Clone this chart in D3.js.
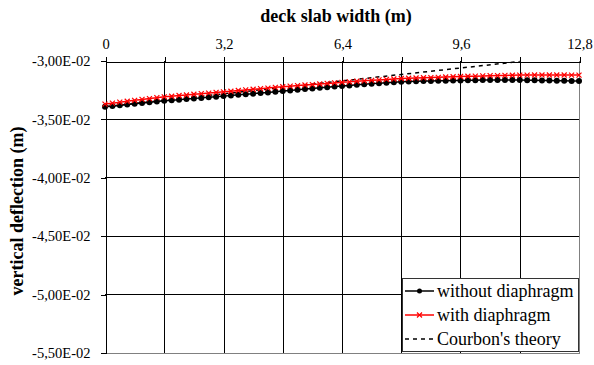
<!DOCTYPE html>
<html>
<head>
<meta charset="utf-8">
<script src="https://cdn.jsdelivr.net/npm/d3@7"></script>
<style>
  html, body { margin: 0; padding: 0; background: #fff; }
  svg { display: block; }
</style>
</head>
<body>
<svg id="chart" width="594" height="365" font-family="Liberation Serif"></svg>
<script>
// Position across the deck slab (m), sampled every 0.2 m
const positions = d3.range(0, 65).map(i => +(i * 0.2).toFixed(1));

// Vertical deflection (m) without diaphragm
const withoutDiaphragm = [
  -3.396e-2, -3.389e-2, -3.383e-2, -3.376e-2, -3.370e-2, -3.363e-2, -3.357e-2, -3.351e-2,
  -3.345e-2, -3.340e-2, -3.335e-2, -3.330e-2, -3.325e-2, -3.320e-2, -3.315e-2, -3.310e-2,
  -3.305e-2, -3.300e-2, -3.294e-2, -3.289e-2, -3.284e-2, -3.278e-2, -3.273e-2, -3.267e-2,
  -3.262e-2, -3.256e-2, -3.251e-2, -3.245e-2, -3.240e-2, -3.234e-2, -3.229e-2, -3.223e-2,
  -3.218e-2, -3.213e-2, -3.208e-2, -3.203e-2, -3.198e-2, -3.194e-2, -3.190e-2, -3.186e-2,
  -3.182e-2, -3.180e-2, -3.178e-2, -3.176e-2, -3.175e-2, -3.174e-2, -3.173e-2, -3.172e-2,
  -3.171e-2, -3.170e-2, -3.169e-2, -3.168e-2, -3.168e-2, -3.168e-2, -3.168e-2, -3.168e-2,
  -3.168e-2, -3.169e-2, -3.170e-2, -3.171e-2, -3.172e-2, -3.173e-2, -3.174e-2, -3.175e-2,
  -3.176e-2
];

// Vertical deflection (m) with diaphragm
const withDiaphragm = [
  -3.373e-2, -3.365e-2, -3.357e-2, -3.349e-2, -3.341e-2, -3.333e-2, -3.326e-2, -3.318e-2,
  -3.311e-2, -3.306e-2, -3.300e-2, -3.295e-2, -3.289e-2, -3.284e-2, -3.279e-2, -3.273e-2,
  -3.268e-2, -3.263e-2, -3.257e-2, -3.252e-2, -3.246e-2, -3.241e-2, -3.236e-2, -3.230e-2,
  -3.225e-2, -3.220e-2, -3.215e-2, -3.210e-2, -3.206e-2, -3.201e-2, -3.196e-2, -3.192e-2,
  -3.187e-2, -3.183e-2, -3.178e-2, -3.174e-2, -3.170e-2, -3.166e-2, -3.162e-2, -3.158e-2,
  -3.154e-2, -3.152e-2, -3.150e-2, -3.148e-2, -3.146e-2, -3.144e-2, -3.141e-2, -3.139e-2,
  -3.137e-2, -3.135e-2, -3.134e-2, -3.132e-2, -3.130e-2, -3.129e-2, -3.128e-2, -3.126e-2,
  -3.125e-2, -3.125e-2, -3.124e-2, -3.124e-2, -3.124e-2, -3.124e-2, -3.124e-2, -3.125e-2,
  -3.125e-2
];

// Courbon's theory (linear distribution across the girders)
const courbonPositions = [0, 11.2];
const courbonValues = [-3.396e-2, -3.009e-2];

// Axis ticks
const xTicks = [0, 1.6, 3.2, 4.8, 6.4, 8.0, 9.6, 11.2, 12.8];
const xTickLabels = ["0", "", "3,2", "", "6,4", "", "9,6", "", "12,8"];
const yTicks = [-3.0e-2, -3.5e-2, -4.0e-2, -4.5e-2, -5.0e-2, -5.5e-2];

const legendLabels = ["without diaphragm", "with diaphragm", "Courbon's theory"];

const FONT = "Liberation Serif";
const svg = d3.select("#chart");
const plotLeft = 105, plotRight = 579, plotTop = 60.5, plotBottom = 352.5;

const x = d3.scaleLinear().domain([0, 12.8]).range([plotLeft, plotRight]);
const y = d3.scaleLinear().domain([-3.0e-2, -5.5e-2]).range([plotTop, plotBottom]);

const fmtY = d => (d * 100).toFixed(2).replace(".", ",") + "E-02";
const snap = v => Math.round(v) + 0.5;

// Gridlines
const grid = svg.append("g").attr("shape-rendering", "crispEdges");
grid.selectAll("line.h").data(yTicks.slice(1, -1)).join("line")
  .attr("x1", plotLeft).attr("x2", plotRight)
  .attr("y1", d => snap(y(d))).attr("y2", d => snap(y(d)))
  .attr("stroke", "#000").attr("stroke-width", 1);
grid.selectAll("line.v").data(xTicks.slice(1, -1)).join("line")
  .attr("y1", plotTop).attr("y2", plotBottom)
  .attr("x1", d => snap(x(d))).attr("x2", d => snap(x(d)))
  .attr("stroke", "#000").attr("stroke-width", 1);

// Plot area border (bottom / right)
grid.append("line").attr("x1", plotLeft).attr("x2", snap(plotRight))
  .attr("y1", snap(plotBottom)).attr("y2", snap(plotBottom)).attr("stroke", "#808080");
grid.append("line").attr("x1", snap(plotRight)).attr("x2", snap(plotRight))
  .attr("y1", plotTop).attr("y2", snap(plotBottom)).attr("stroke", "#808080");

// Top x axis
const xAxis = d3.axisTop(x).tickValues(xTicks)
  .tickFormat((d, i) => xTickLabels[i]).tickSize(5).tickPadding(8);
const gx = svg.append("g").attr("transform", `translate(0.5,${snap(plotTop)})`).call(xAxis)
  .attr("font-family", FONT).attr("font-size", 14.5);
gx.select(".domain").attr("stroke", "#000").attr("shape-rendering", "crispEdges");
gx.selectAll(".tick line").attr("stroke", "#000").attr("shape-rendering", "crispEdges");
gx.selectAll(".tick text").attr("font-family", FONT).attr("fill", "#000");

// Left y axis
const yAxis = d3.axisLeft(y).tickValues(yTicks).tickFormat(fmtY).tickSize(5).tickPadding(10);
const gy = svg.append("g").attr("transform", `translate(${snap(plotLeft)},0.5)`).call(yAxis)
  .attr("font-family", FONT).attr("font-size", 14.5);
gy.select(".domain").attr("stroke", "#000").attr("shape-rendering", "crispEdges");
gy.selectAll(".tick line").attr("stroke", "#000").attr("shape-rendering", "crispEdges");
gy.selectAll(".tick text").attr("font-family", FONT).attr("fill", "#000");

// Axis titles
svg.append("text").attr("x", 336).attr("y", 22).attr("text-anchor", "middle")
  .attr("font-family", FONT).attr("font-size", 18).attr("font-weight", "bold")
  .text("deck slab width (m)");
svg.append("text").attr("transform", "translate(23,211) rotate(-90)").attr("text-anchor", "middle")
  .attr("font-family", FONT).attr("font-size", 18).attr("font-weight", "bold")
  .text("vertical deflection (m)");

// Series
const plot = svg.append("g");
const line = d3.line().x(d => x(d[0])).y(d => y(d[1]));

const courbon = courbonPositions.map((p, i) => [p, courbonValues[i]]);
plot.append("path").datum(courbon).attr("d", line)
  .attr("fill", "none").attr("stroke", "#000").attr("stroke-width", 1.5)
  .attr("stroke-dasharray", "4,4");

const black = positions.map((p, i) => [p, withoutDiaphragm[i]]);
plot.append("path").datum(black).attr("d", line)
  .attr("fill", "none").attr("stroke", "#000").attr("stroke-width", 1.5);
plot.selectAll("circle.b").data(black).join("circle")
  .attr("cx", d => x(d[0])).attr("cy", d => y(d[1])).attr("r", 3).attr("fill", "#000");

const red = positions.map((p, i) => [p, withDiaphragm[i]]);
plot.append("path").datum(red).attr("d", line)
  .attr("fill", "none").attr("stroke", "#ff0000").attr("stroke-width", 1.5);
const s = 2.5;
plot.selectAll("path.rx").data(red).join("path")
  .attr("d", d => {
    const cx = x(d[0]), cy = y(d[1]);
    return `M${cx - s},${cy - s}L${cx + s},${cy + s}M${cx - s},${cy + s}L${cx + s},${cy - s}`;
  })
  .attr("stroke", "#ff0000").attr("stroke-width", 1.2).attr("fill", "none");

// Legend
const lg = svg.append("g");
lg.append("rect").attr("x", 402.5).attr("y", 278.5).attr("width", 176).attr("height", 73)
  .attr("fill", "#fff").attr("stroke", "#333").attr("stroke-width", 1);
const rows = [
  { color: "#000", dash: null, marker: "dot" },
  { color: "#ff0000", dash: null, marker: "x" },
  { color: "#000", dash: "4,4", marker: null }
];
rows.forEach((r, i) => {
  const cy = 291 + i * 24;
  lg.append("line").attr("x1", 405).attr("x2", 434).attr("y1", cy).attr("y2", cy)
    .attr("stroke", r.color).attr("stroke-width", 1.5)
    .attr("stroke-dasharray", r.dash);
  if (r.marker === "dot") {
    lg.append("circle").attr("cx", 419.5).attr("cy", cy).attr("r", 2.5).attr("fill", "#000");
  } else if (r.marker === "x") {
    lg.append("path").attr("d", `M${417},${cy - 2.5}L${422},${cy + 2.5}M${417},${cy + 2.5}L${422},${cy - 2.5}`)
      .attr("stroke", "#ff0000").attr("stroke-width", 1.2);
  }
  lg.append("text").attr("x", 437).attr("y", cy + 6)
    .attr("font-family", FONT).attr("font-size", 18).attr("fill", "#000")
    .text(legendLabels[i]);
});
</script>
</body>
</html>
